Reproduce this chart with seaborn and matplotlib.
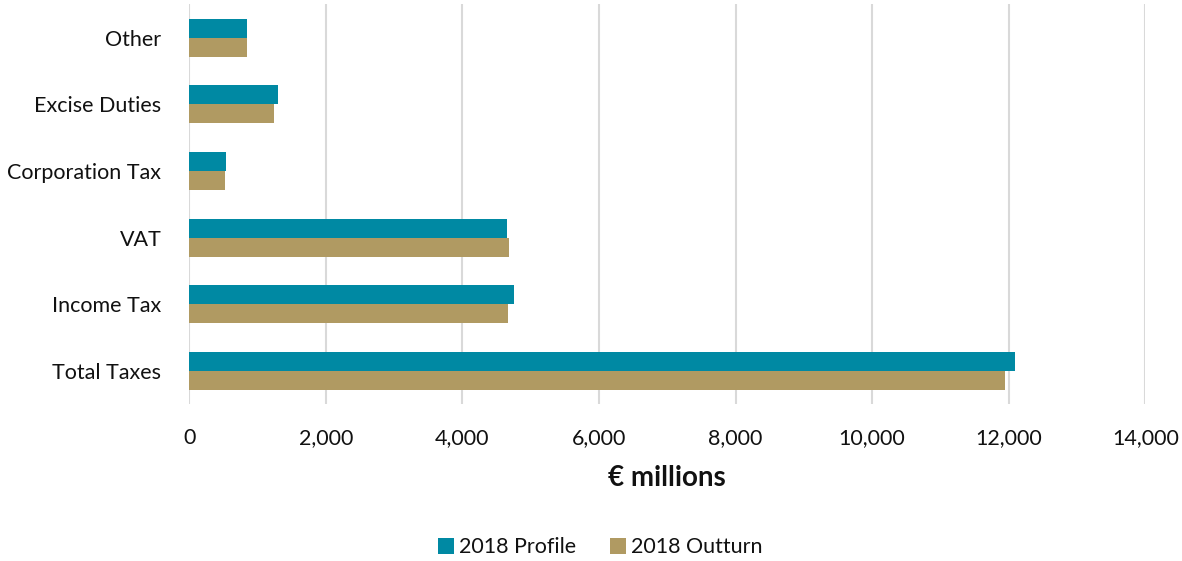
import matplotlib
matplotlib.use("Agg")
import matplotlib.pyplot as plt
import seaborn as sns
import pandas as pd

categories = ["Other", "Excise Duties", "Corporation Tax", "VAT", "Income Tax", "Total Taxes"]
profile_2018 = [853, 1297, 536, 4658, 4751, 12088]
outturn_2018 = [843, 1238, 531, 4678, 4673, 11946]
series_names = ["2018 Profile", "2018 Outturn"]
x_ticks = [0, 2000, 4000, 6000, 8000, 10000, 12000, 14000]

df = pd.DataFrame({
    "category": categories * 2,
    "value": profile_2018 + outturn_2018,
    "series": [series_names[0]] * len(categories) + [series_names[1]] * len(categories),
})

sns.set_theme(style="white")
plt.rcParams["font.family"] = ["Lato", "DejaVu Sans"]

fig = plt.figure(figsize=(11.82, 5.61), dpi=100)
ax = fig.add_axes([0.160, 0.279, 0.809, 0.713])

palette = {series_names[0]: "#0089A3", series_names[1]: "#B09A62"}
sns.barplot(data=df, x="value", y="category", hue="series", order=categories,
            hue_order=series_names, palette=palette, width=0.57, ax=ax,
            saturation=1, errorbar=None, edgecolor="none")

ax.set_xlim(0, 14000)
ax.set_xticks(x_ticks)
ax.set_xticklabels([f"{t:,}" for t in x_ticks], fontsize=15.5, color="#111111")
ax.tick_params(axis="y", labelsize=15.5, labelcolor="#111111", length=0, pad=20)
ax.tick_params(axis="x", length=0, pad=17)
ax.set_ylabel("")
ax.set_xlabel("€ millions", fontsize=20, fontweight="bold", color="#111111", labelpad=12)
ax.grid(axis="x", color="#D9D9D9", linewidth=1.5)
ax.set_axisbelow(True)
for s in ax.spines.values():
    s.set_visible(False)

leg = ax.legend(loc="center", bbox_to_anchor=(0.43, -0.3575), ncol=2, frameon=False,
                fontsize=15.5, handlelength=0.75, handleheight=0.75, handletextpad=0.2,
                columnspacing=1.6)
for t in leg.get_texts():
    t.set_color("#111111")

fig.savefig("out.png", dpi=100)
